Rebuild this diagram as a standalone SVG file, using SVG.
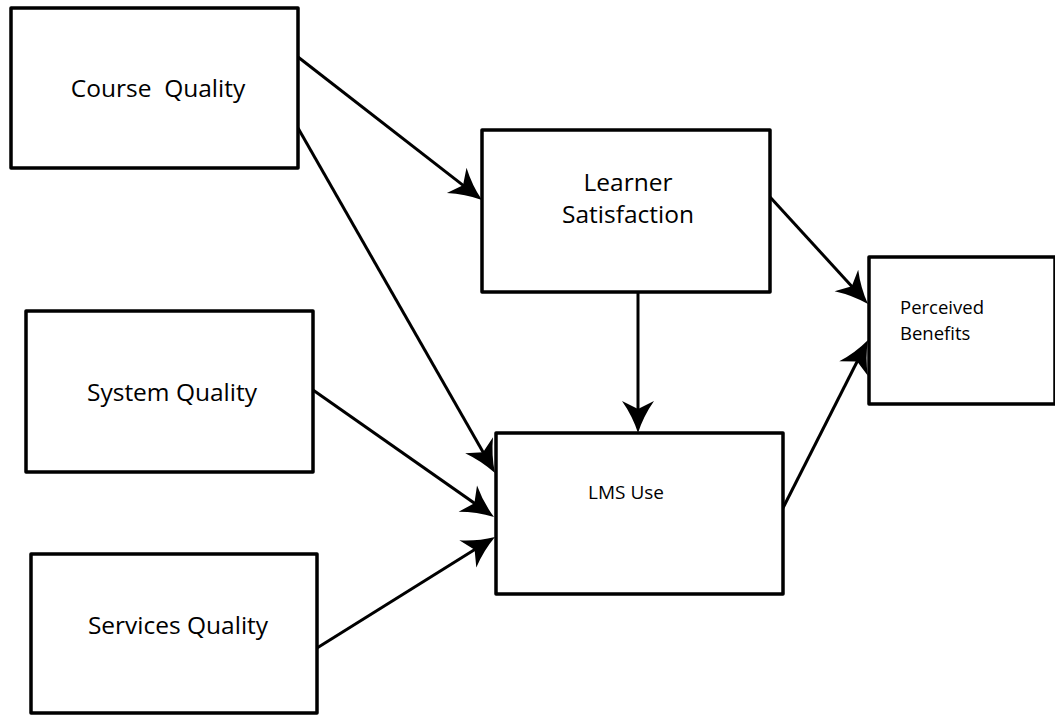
<svg xmlns="http://www.w3.org/2000/svg" width="1055" height="715" viewBox="0 0 1055 715">
<style>
.box{fill:#fff;stroke:#000;stroke-width:3.5;stroke-linejoin:round}
.lbl{font-family:"Open Sans","Noto Sans",sans-serif;fill:#000}
.edge{stroke:#000;stroke-width:3;fill:none;marker-end:url(#ah)}
</style>
<defs>
<marker id="ah" markerUnits="userSpaceOnUse" markerWidth="34" markerHeight="34" viewBox="0 0 34 34" refX="20" refY="17" orient="auto" overflow="visible">
<path d="M32,17 Q15,11.5 0,1 L8,17 L0,33 Q15,22.5 32,17 Z" fill="#000"/>
</marker>
</defs>
<rect width="1055" height="715" fill="#fff"/>
<g id="connectors">
<line class="edge" x1="298" y1="57" x2="472.5" y2="192.6"/>
<line class="edge" x1="298" y1="128" x2="489" y2="462.6"/>
<line class="edge" x1="313" y1="390" x2="484.2" y2="510.1"/>
<line class="edge" x1="317" y1="648" x2="484.8" y2="543.3"/>
<line class="edge" x1="638" y1="292" x2="638" y2="421"/>
<line class="edge" x1="770" y1="197" x2="859.9" y2="295.2"/>
<line class="edge" x1="783" y1="508" x2="862.6" y2="350.7"/>
</g>
<g id="course-quality">
<rect class="box" x="11" y="8" width="287" height="160"/>
<text class="lbl" x="158" y="97" font-size="24.5" text-anchor="middle" xml:space="preserve">Course  Quality</text>
</g>
<g id="learner-satisfaction">
<rect class="box" x="482" y="130" width="288" height="162"/>
<text class="lbl" x="628" y="191" font-size="24.5" text-anchor="middle">Learner</text>
<text class="lbl" x="628" y="223" font-size="24.5" text-anchor="middle">Satisfaction</text>
</g>
<g id="perceived-benefits">
<rect class="box" x="869" y="257" width="186" height="147"/>
<text class="lbl" x="900" y="314" font-size="18.5">Perceived</text>
<text class="lbl" x="900" y="340" font-size="18.5">Benefits</text>
</g>
<g id="system-quality">
<rect class="box" x="26" y="311" width="287" height="161"/>
<text class="lbl" x="172" y="401" font-size="24.5" text-anchor="middle">System Quality</text>
</g>
<g id="lms-use">
<rect class="box" x="496" y="433" width="287" height="161"/>
<text class="lbl" x="626" y="499" font-size="19" text-anchor="middle">LMS Use</text>
</g>
<g id="services-quality">
<rect class="box" x="31" y="554" width="286" height="159"/>
<text class="lbl" x="178" y="634" font-size="24.5" text-anchor="middle">Services Quality</text>
</g>
</svg>
